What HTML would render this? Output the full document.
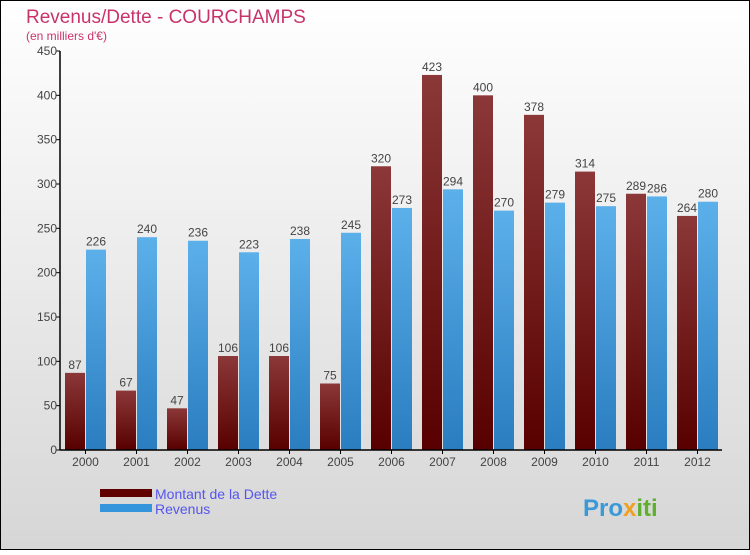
<!DOCTYPE html>
<html><head><meta charset="utf-8"><style>
html,body{margin:0;padding:0}
body{width:750px;height:550px;overflow:hidden;font-family:"Liberation Sans",sans-serif}
</style></head><body>
<svg width="750" height="550" xmlns="http://www.w3.org/2000/svg">
<defs>
<linearGradient id="bg" x1="0" y1="0" x2="0" y2="1"><stop offset="0" stop-color="#ffffff"/><stop offset="1" stop-color="#d6d6d6"/></linearGradient>
<linearGradient id="gd" x1="0" y1="0" x2="0" y2="1"><stop offset="0" stop-color="#8c3838"/><stop offset="1" stop-color="#580000"/></linearGradient>
<linearGradient id="gr" x1="0" y1="0" x2="0" y2="1"><stop offset="0" stop-color="#5cb0ea"/><stop offset="1" stop-color="#2a7dbf"/></linearGradient>
</defs>
<rect x="0.5" y="0.5" width="749" height="549" fill="url(#bg)" stroke="#000"/>
<text x="26" y="23" font-size="19" fill="#c8336a">Revenus/Dette - COURCHAMPS</text>
<text x="26" y="40" font-size="12" fill="#c8336a">(en milliers d'€)</text>
<g id="plot"></g>
<g>
<rect x="100" y="489" width="52" height="8" fill="#600000"/>
<text x="155" y="499" font-size="14" fill="#5555ee">Montant de la Dette</text>
<rect x="100" y="504" width="52" height="8" fill="#3494dc"/>
<text x="155" y="514" font-size="14" fill="#5555ee">Revenus</text>
</g>
<text x="583" y="516" font-size="24" font-weight="bold" fill="#3a9ad8">Pro<tspan fill="#f0a020">x</tspan><tspan fill="#60b030">iti</tspan></text>
</svg>
<script>
const years=["2000","2001","2002","2003","2004","2005","2006","2007","2008","2009","2010","2011","2012"];
const dette=[87,67,47,106,106,75,320,423,400,378,314,289,264];
const revenus=[226,240,236,223,238,245,273,294,270,279,275,286,280];
const yTicks=[0,50,100,150,200,250,300,350,400,450];
const NS="http://www.w3.org/2000/svg";
const g=document.getElementById('plot');
const x0=60,y0=450,yTop=51,yMax=450,step=51;
const y=v=>y0-(v/yMax)*(y0-yTop);
const gx=i=>x0+5+i*step;
function mk(t,a){const e=document.createElementNS(NS,t);for(const k in a)e.setAttribute(k,a[k]);g.appendChild(e);return e;}
yTicks.forEach(v=>{
 const l=mk('line',{x1:x0-4,x2:x0,y1:y(v),y2:y(v),stroke:'#000'});
 
 
 const t=mk('text',{x:x0-3,y:y(v)+4,'font-size':12,fill:'#444','text-anchor':'end'});t.textContent=v;
 
 
});
years.forEach((yr,i)=>{
 const bx=gx(i);
 const b1=mk('rect',{x:bx,y:y(dette[i]),width:20,height:y0-y(dette[i]),fill:'url(#gd)'});
 
 
 const b2=mk('rect',{x:bx+21,y:y(revenus[i]),width:20,height:y0-y(revenus[i]),fill:'url(#gr)'});
 
 
 const t1=mk('text',{x:bx+10,y:y(dette[i])-4,'font-size':12,fill:'#444','text-anchor':'middle'});t1.textContent=dette[i];
 
 
 const t2=mk('text',{x:bx+31,y:y(revenus[i])-4,'font-size':12,fill:'#444','text-anchor':'middle'});t2.textContent=revenus[i];
 
 
 const tk=mk('line',{x1:bx+20.5,x2:bx+20.5,y1:y0,y2:y0+4,stroke:'#000'});
 
 
 const xl=mk('text',{x:bx+20.5,y:y0+16,'font-size':12,fill:'#444','text-anchor':'middle'});xl.textContent=yr;
 
 
});
const ax=mk('line',{x1:x0,x2:x0,y1:yTop,y2:y0,stroke:'#000','stroke-width':1.5});


const bx=mk('line',{x1:x0,x2:722,y1:y0,y2:y0,stroke:'#000','stroke-width':1.5});


</script>
</body></html>
